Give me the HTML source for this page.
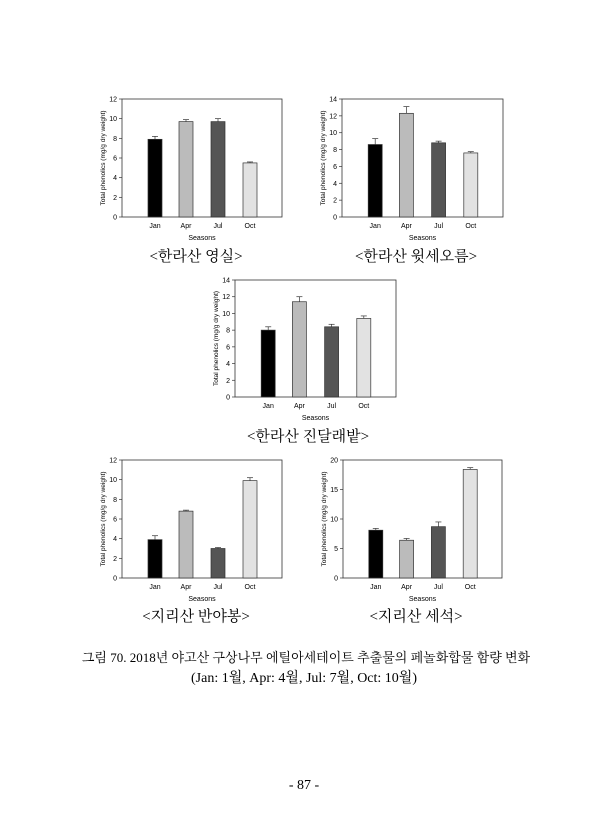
<!DOCTYPE html>
<html><head><meta charset="utf-8"><style>
body{margin:0;background:#fff;}
.cap{position:absolute;font-family:"Liberation Serif","Noto Serif CJK SC",serif;font-size:15px;color:#000;white-space:nowrap;transform:translateX(-50%);}
</style></head><body>
<div style="position:relative;width:609px;height:840px;overflow:hidden">
<svg id="s" width="609" height="840" style="position:absolute;left:0;top:0" font-family="Liberation Sans, sans-serif"></svg>
<div class="cap" style="left:196px;top:245px">&lt;한라산 영실&gt;</div>
<div class="cap" style="left:416px;top:245px">&lt;한라산 윗세오름&gt;</div>
<div class="cap" style="left:308px;top:425px">&lt;한라산 진달래밭&gt;</div>
<div class="cap" style="left:196px;top:605px">&lt;지리산 반야봉&gt;</div>
<div class="cap" style="left:416px;top:605px">&lt;지리산 세석&gt;</div>
<div class="cap" style="left:306px;top:647px;font-size:13px">그림 70. 2018년 야고산 구상나무 에틸아세테이트 추출물의 페놀화합물 함량 변화</div>
<div class="cap" style="left:304px;top:667px;font-size:14px">(Jan: 1월, Apr: 4월, Jul: 7월, Oct: 10월)</div>
<div class="cap" style="left:304px;top:778px;font-size:14px">- 87 -</div>
</div>
<script>
var s=document.getElementById('s'),h='';
var cols=['#000','#bbb','#555','#e2e2e2'],labs=['Jan','Apr','Jul','Oct'];
function chart(L,R,T,B,max,step,d){
 h+='<rect x="'+L+'" y="'+T+'" width="'+(R-L)+'" height="'+(B-T)+'" fill="none" stroke="#333" stroke-width="0.8"/>';
 for(var v=0;v<=max;v+=step){var y=B-(B-T)*v/max;
  h+='<line x1="'+(L-3)+'" x2="'+L+'" y1="'+y+'" y2="'+y+'" stroke="#333" stroke-width="0.7"/>';
  h+='<text x="'+(L-5)+'" y="'+(y+2.5)+'" font-size="7" text-anchor="end">'+v+'</text>';}
 var w=(R-L)/5;
 for(var i=0;i<4;i++){var cx=L+w*(i+1)+(i==0?1:0),v=d[i][0],e=d[i][1];
  var y=B-(B-T)*v/max,ye=B-(B-T)*(v+e)/max;
  h+='<line x1="'+cx+'" x2="'+cx+'" y1="'+y+'" y2="'+ye+'" stroke="#333" stroke-width="0.7"/>';
  h+='<line x1="'+(cx-3)+'" x2="'+(cx+3)+'" y1="'+ye+'" y2="'+ye+'" stroke="#333" stroke-width="0.7"/>';
  h+='<rect x="'+(cx-7)+'" y="'+y+'" width="14" height="'+(B-y)+'" fill="'+cols[i]+'" stroke="#333" stroke-width="0.7"/>';
  h+='<text x="'+cx+'" y="'+(B+11)+'" font-size="7" text-anchor="middle">'+labs[i]+'</text>';}
 h+='<text x="'+((L+R)/2)+'" y="'+(B+23)+'" font-size="7" text-anchor="middle">Seasons</text>';
 var my=(T+B)/2,mx=L-17;
 h+='<text transform="translate('+mx+','+my+') rotate(-90)" font-size="6.5" text-anchor="middle">Total phenolics (mg/g dry weight)</text>';
}
chart(122,282,99,217,12,2,[[7.9,.3],[9.7,.2],[9.7,.3],[5.5,.1]]);
chart(342,503,99,217,14,2,[[8.6,.7],[12.3,.8],[8.8,.2],[7.6,.15]]);
chart(235,396,280,397,14,2,[[8.0,.4],[11.4,.6],[8.4,.3],[9.4,.3]]);
chart(122,282,460,578,12,2,[[3.9,.4],[6.8,.1],[3.0,.1],[9.9,.3]]);
chart(343,502,460,578,20,5,[[8.1,.3],[6.4,.3],[8.7,.8],[18.4,.3]]);
s.innerHTML=h;
</script>
</body></html>
